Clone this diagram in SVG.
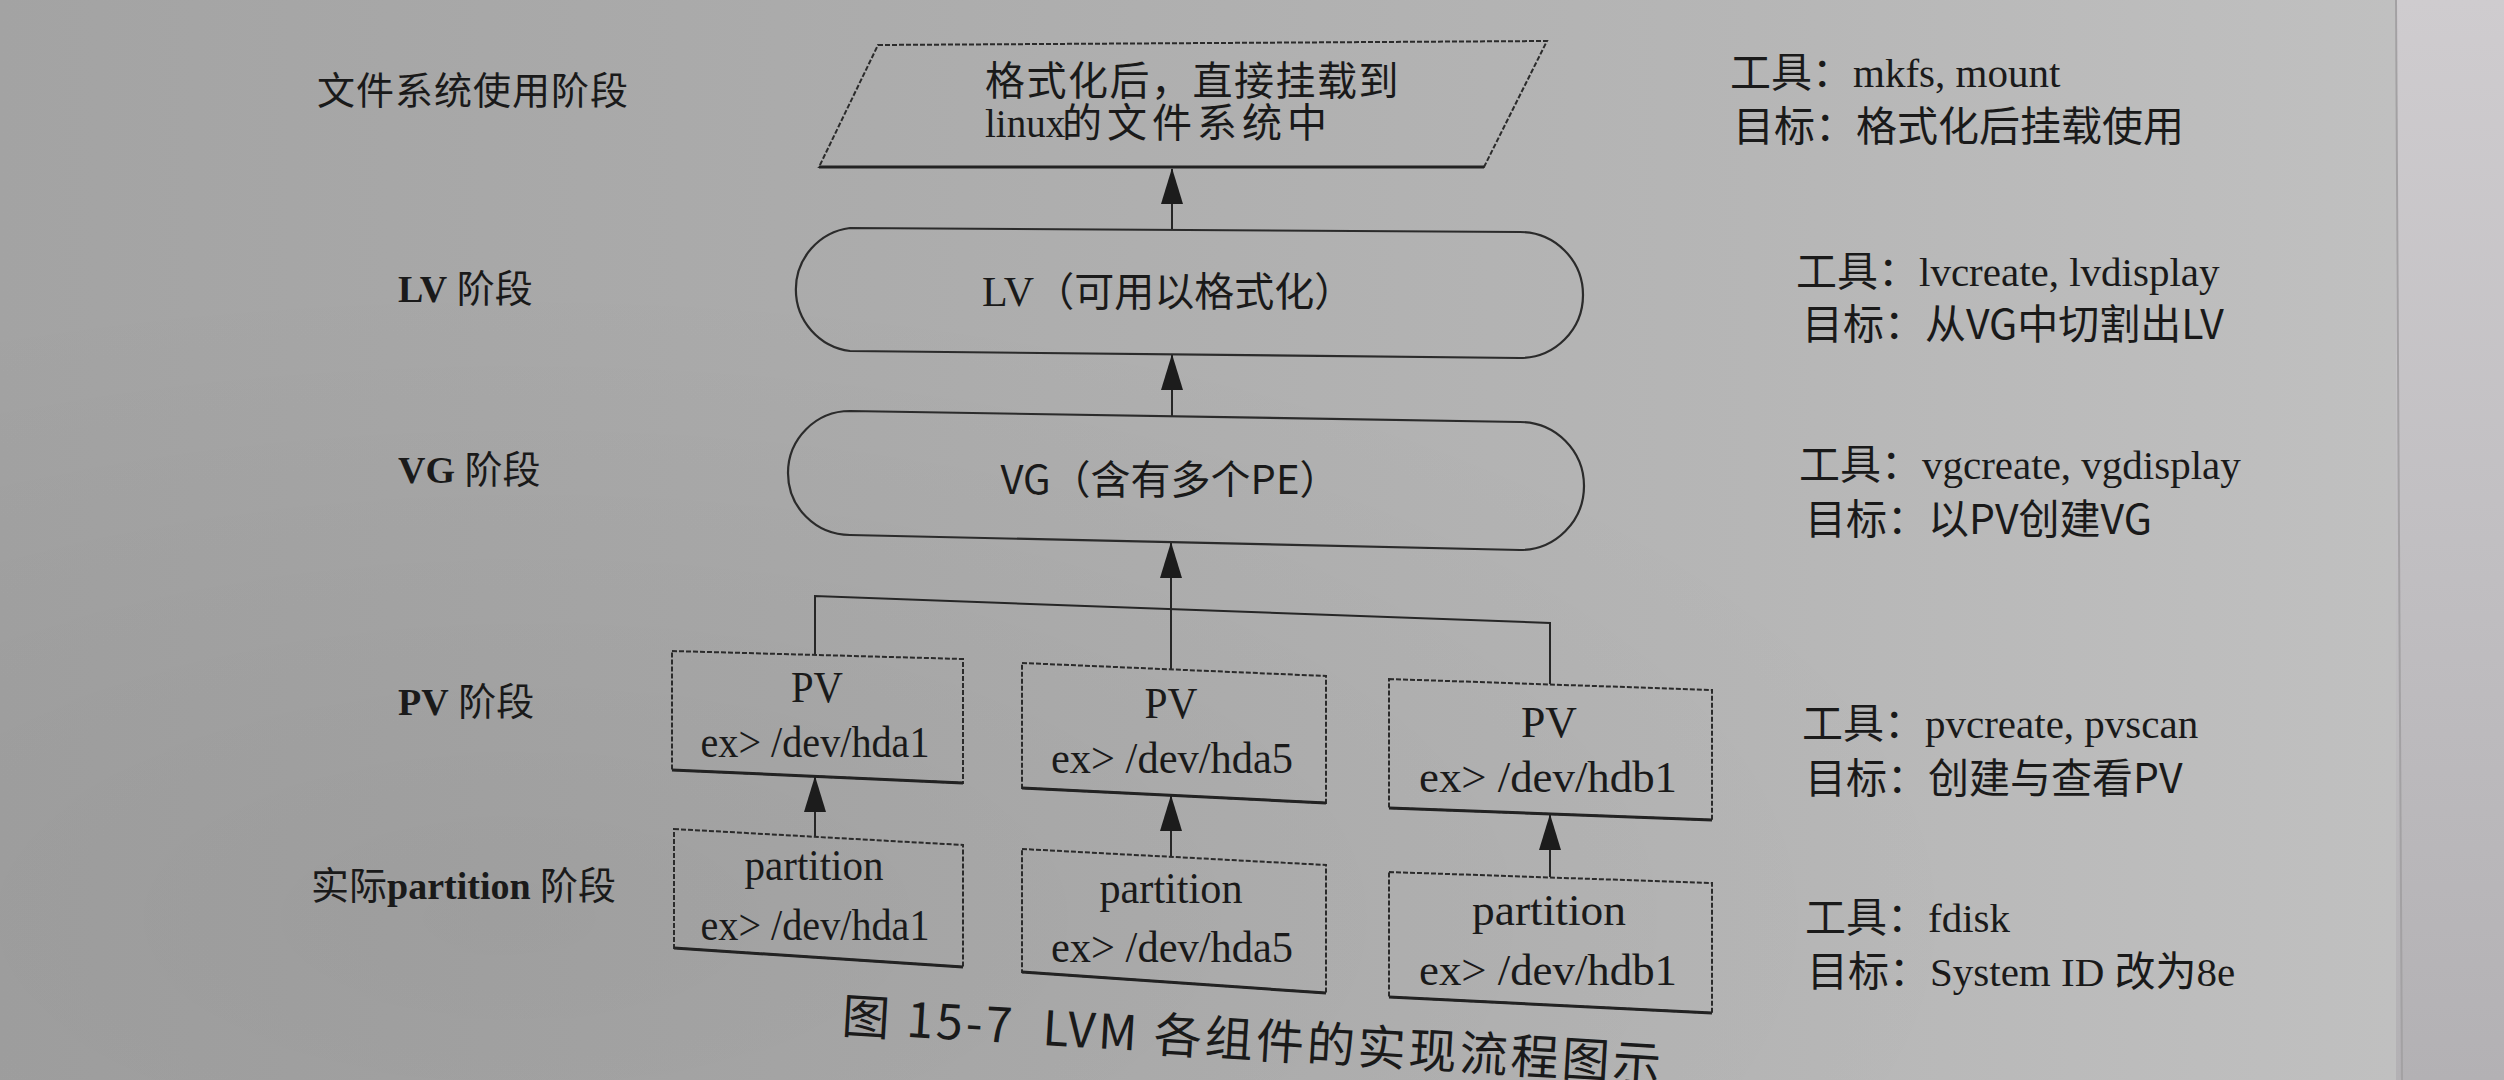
<svg xmlns="http://www.w3.org/2000/svg" width="2504" height="1080" viewBox="0 0 2504 1080">
  <defs>
    <linearGradient id="paper" x1="0" y1="0" x2="1" y2="0">
      <stop offset="0" stop-color="#a3a3a3"/>
      <stop offset="0.35" stop-color="#acacac"/>
      <stop offset="0.7" stop-color="#b6b6b6"/>
      <stop offset="0.955" stop-color="#c0c0c0"/>
    </linearGradient>
    <linearGradient id="edge" x1="0" y1="0" x2="0" y2="1">
      <stop offset="0" stop-color="#cfcccf"/>
      <stop offset="0.5" stop-color="#c1bfc2"/>
      <stop offset="1" stop-color="#b3b1b4"/>
    </linearGradient>
    <radialGradient id="shade" cx="0.2" cy="0.85" r="0.6">
      <stop offset="0" stop-color="#000" stop-opacity="0.06"/>
      <stop offset="1" stop-color="#000" stop-opacity="0"/>
    </radialGradient>
    <marker id="arrow" markerUnits="userSpaceOnUse" markerWidth="38" markerHeight="24" refX="35" refY="12" orient="auto">
      <path d="M0,1 L36,12 L0,23 z" fill="#1c1c1c"/>
    </marker>
    <style>
      .box { fill: none; stroke: #2b2b2b; stroke-width: 2; stroke-dasharray: 5 2; }
      .base { fill: none; stroke: #222; stroke-width: 3; }
      .term { fill: none; stroke: #2b2b2b; stroke-width: 2.2; }
      .conn { fill: none; stroke: #262626; stroke-width: 2; }
      .t { fill: #1a1a1a; }
      .serif { font-family: "Liberation Serif", "Noto Sans CJK SC", serif; }
      .cjk { font-family: "Noto Sans CJK SC", "Liberation Sans", sans-serif; }
      .boxtxt { font-family: "Liberation Serif", serif; font-size: 45px; text-anchor: middle; fill: #1a1a1a; }
      .lbl { font-size: 38px; }
      .note { font-size: 41px; }
    </style>
  </defs>

  <rect x="0" y="0" width="2504" height="1080" fill="url(#paper)"/>
  <rect x="0" y="0" width="2504" height="1080" fill="url(#shade)"/>
  <rect x="2396" y="0" width="108" height="1080" fill="url(#edge)"/>
  <line x1="2396" y1="0" x2="2402" y2="1080" stroke="#a3a1a3" stroke-width="2"/>

  <!-- stage labels -->
  <g id="stage-labels" class="t">
    <text class="cjk lbl" x="317" y="104" letter-spacing="1">文件系统使用阶段</text>
    <text class="serif lbl" x="398" y="302"><tspan font-weight="bold">LV</tspan> <tspan font-family="Noto Sans CJK SC, sans-serif">阶段</tspan></text>
    <text class="serif lbl" x="398" y="483"><tspan font-weight="bold">VG</tspan> <tspan font-family="Noto Sans CJK SC, sans-serif">阶段</tspan></text>
    <text class="serif lbl" x="398" y="715"><tspan font-weight="bold">PV</tspan> <tspan font-family="Noto Sans CJK SC, sans-serif">阶段</tspan></text>
    <text class="serif lbl" x="311" y="899"><tspan font-family="Noto Sans CJK SC, sans-serif">实际</tspan><tspan font-weight="bold">partition</tspan> <tspan font-family="Noto Sans CJK SC, sans-serif">阶段</tspan></text>
  </g>

  <!-- connectors -->
  <g id="connectors">
    <line class="conn" x1="1172" y1="229" x2="1172" y2="169" marker-end="url(#arrow)"/>
    <line class="conn" x1="1172" y1="416" x2="1172" y2="355" marker-end="url(#arrow)"/>
    <line class="conn" x1="1171" y1="669" x2="1171" y2="543" marker-end="url(#arrow)"/>
    <polyline class="conn" points="815,655 815,596 1550,623 1550,684"/>
    <line class="conn" x1="815" y1="837" x2="815" y2="777" marker-end="url(#arrow)"/>
    <line class="conn" x1="1171" y1="857" x2="1171" y2="796" marker-end="url(#arrow)"/>
    <line class="conn" x1="1550" y1="877" x2="1550" y2="815" marker-end="url(#arrow)"/>
  </g>

  <!-- filesystem usage (parallelogram) -->
  <g id="node-fs">
    <polygon class="box" points="878,45 1547,41 1484,167 819,167"/>
    <line class="base" x1="819" y1="167" x2="1484" y2="167"/>
    <text class="cjk t" font-size="40"><tspan x="985" y="95" letter-spacing="1.5">格式化后，直接挂载到</tspan><tspan x="985" y="137" font-family="Liberation Serif, serif" font-size="39">linux</tspan><tspan x="1062" y="137" letter-spacing="5">的文件系统中</tspan></text>
  </g>

  <!-- LV -->
  <g id="node-lv">
    <path class="term" d="M850,228 L1520,232 A63,63 0 0 1 1520,358 L850,351 A62,62 0 0 1 850,228 Z"/>
    <text class="cjk t" font-size="40" x="982" y="306"><tspan font-family="Liberation Serif, serif" font-size="42">LV</tspan>（可用以格式化）</text>
  </g>

  <!-- VG -->
  <g id="node-vg">
    <path class="term" d="M850,411 L1520,422 A64,64 0 0 1 1520,550 L850,535 A62,62 0 0 1 850,411 Z"/>
    <text class="cjk t" font-size="40" x="1170" y="494" text-anchor="middle">VG（含有多个PE）</text>
  </g>

  <!-- PV boxes -->
  <g id="node-pv1">
    <polygon class="box" points="672,651 963,659 963,783 672,770"/>
    <line class="base" x1="672" y1="770" x2="963" y2="783"/>
    <text class="boxtxt" x="817" y="702" textLength="52" lengthAdjust="spacingAndGlyphs">PV</text>
    <text class="boxtxt" x="815" y="757" textLength="229" lengthAdjust="spacingAndGlyphs">ex&gt; /dev/hda1</text>
  </g>
  <g id="node-pv2">
    <polygon class="box" points="1022,663 1326,676 1326,803 1022,788"/>
    <line class="base" x1="1022" y1="788" x2="1326" y2="803"/>
    <text class="boxtxt" x="1171" y="718" textLength="53" lengthAdjust="spacingAndGlyphs">PV</text>
    <text class="boxtxt" x="1172" y="773" textLength="242" lengthAdjust="spacingAndGlyphs">ex&gt; /dev/hda5</text>
  </g>
  <g id="node-pv3">
    <polygon class="box" points="1389,679 1712,690 1712,820 1389,808"/>
    <line class="base" x1="1389" y1="808" x2="1712" y2="820"/>
    <text class="boxtxt" x="1549" y="737" textLength="56" lengthAdjust="spacingAndGlyphs">PV</text>
    <text class="boxtxt" x="1548" y="792" textLength="258" lengthAdjust="spacingAndGlyphs">ex&gt; /dev/hdb1</text>
  </g>

  <!-- partition boxes -->
  <g id="node-part1">
    <polygon class="box" points="674,829 963,845 963,967 674,948"/>
    <line class="base" x1="674" y1="948" x2="963" y2="967"/>
    <text class="boxtxt" x="814" y="880" textLength="139" lengthAdjust="spacingAndGlyphs">partition</text>
    <text class="boxtxt" x="815" y="940" textLength="229" lengthAdjust="spacingAndGlyphs">ex&gt; /dev/hda1</text>
  </g>
  <g id="node-part2">
    <polygon class="box" points="1022,849 1326,865 1326,993 1022,972"/>
    <line class="base" x1="1022" y1="972" x2="1326" y2="993"/>
    <text class="boxtxt" x="1171" y="903" textLength="143" lengthAdjust="spacingAndGlyphs">partition</text>
    <text class="boxtxt" x="1172" y="962" textLength="242" lengthAdjust="spacingAndGlyphs">ex&gt; /dev/hda5</text>
  </g>
  <g id="node-part3">
    <polygon class="box" points="1389,872 1712,883 1712,1013 1389,997"/>
    <line class="base" x1="1389" y1="997" x2="1712" y2="1013"/>
    <text class="boxtxt" x="1549" y="925" textLength="154" lengthAdjust="spacingAndGlyphs">partition</text>
    <text class="boxtxt" x="1548" y="985" textLength="258" lengthAdjust="spacingAndGlyphs">ex&gt; /dev/hdb1</text>
  </g>

  <!-- tool / goal notes -->
  <g id="notes" class="t">
    <text class="serif note" x="1730" y="87">工具：mkfs, mount</text>
    <text class="cjk note" x="1733" y="141">目标：格式化后挂载使用</text>
    <text class="serif note" x="1796" y="286">工具：lvcreate, lvdisplay</text>
    <text class="cjk note" x="1802" y="339">目标：从VG中切割出LV</text>
    <text class="serif note" x="1799" y="479">工具：vgcreate, vgdisplay</text>
    <text class="cjk note" x="1805" y="534">目标：以PV创建VG</text>
    <text class="serif note" x="1802" y="738">工具：pvcreate, pvscan</text>
    <text class="cjk note" x="1805" y="793">目标：创建与查看PV</text>
    <text class="serif note" x="1805" y="932">工具：fdisk</text>
    <text class="serif note" x="1807" y="986">目标：System ID  改为8e</text>
  </g>

  <!-- caption -->
  <g id="caption">
    <text class="cjk t" font-size="48" x="841" y="1033" transform="rotate(3.4 841 1033)" textLength="820" lengthAdjust="spacing" xml:space="preserve">图 15-7  LVM 各组件的实现流程图示</text>
  </g>
</svg>
